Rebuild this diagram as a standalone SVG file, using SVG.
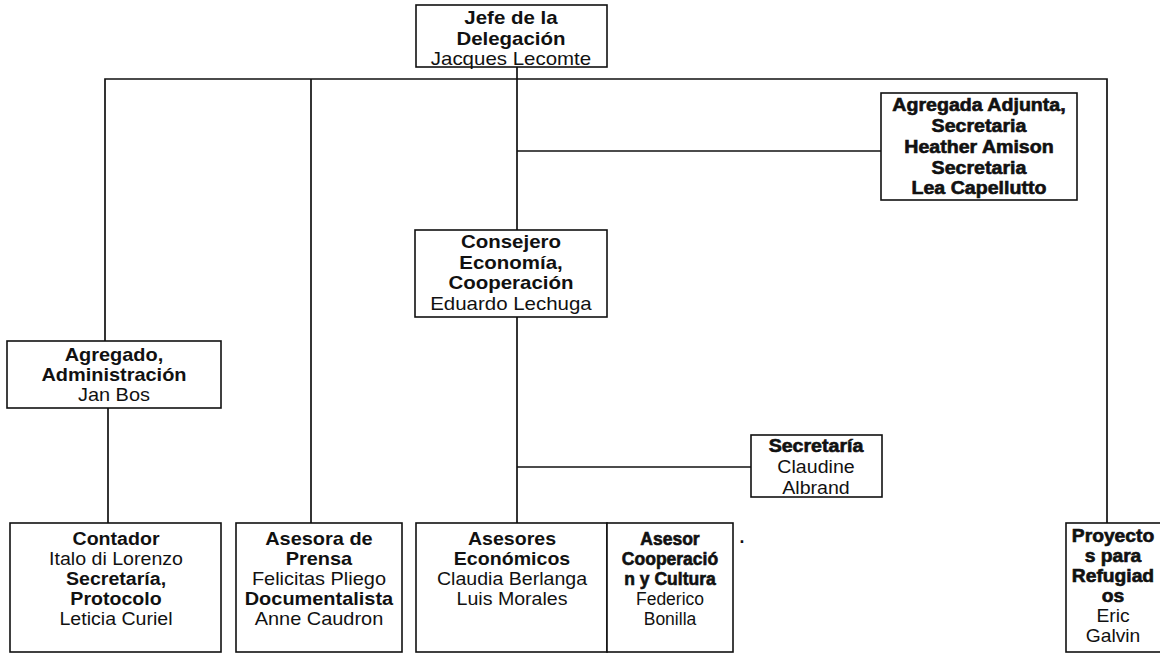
<svg xmlns="http://www.w3.org/2000/svg" width="1160" height="654" viewBox="0 0 1160 654">
  <style>
    .box { fill: #fff; stroke: #111; stroke-width: 1.6; }
    .wire { fill: none; stroke: #111; stroke-width: 1.7; }
    text { font-family: "Liberation Sans", Arial, sans-serif; font-size: 17.5px; fill: #111; text-anchor: middle; }
    .b { font-weight: bold; }
    .h { font-weight: bold; stroke: #111; stroke-width: 0.6; }
  </style>

  <rect width="1160" height="654" fill="#fff"/>

  <!-- connectors -->
  <g id="connectors">
    <polyline class="wire" points="105,341 105,79 1107,79 1107,523"/>
    <line class="wire" x1="311" y1="79" x2="311" y2="523"/>
    <line class="wire" x1="517" y1="67" x2="517" y2="230"/>
    <line class="wire" x1="517" y1="317" x2="517" y2="523"/>
    <line class="wire" x1="517" y1="151" x2="881" y2="151"/>
    <line class="wire" x1="517" y1="467" x2="751" y2="467"/>
    <line class="wire" x1="108" y1="408" x2="108" y2="523"/>
  </g>

  <!-- head of delegation -->
  <g id="jefe">
    <rect class="box" x="416" y="5" width="191" height="62"/>
    <g transform="matrix(1.17 0 0 1 -86.9 0)">
      <text class="b" x="511" y="24">Jefe de la</text>
      <text class="b" x="511" y="45">Delegación</text>
      <text x="511" y="65">Jacques Lecomte</text>
    </g>
  </g>

  <!-- deputy attaché -->
  <g id="agregada">
    <rect class="box" x="881" y="93" width="196" height="107"/>
    <g transform="matrix(1.12 0 0 1 -117.5 0)">
      <text class="h" x="979" y="111">Agregada Adjunta,</text>
      <text class="h" x="979" y="132">Secretaria</text>
      <text class="h" x="979" y="153">Heather Amison</text>
      <text class="h" x="979" y="174">Secretaria</text>
      <text class="h" x="979" y="194">Lea Capellutto</text>
    </g>
  </g>

  <!-- economy / cooperation counsellor -->
  <g id="consejero">
    <rect class="box" x="415" y="230" width="192" height="87"/>
    <g transform="matrix(1.17 0 0 1 -86.9 0)">
      <text class="b" x="511" y="248">Consejero</text>
      <text class="b" x="511" y="269">Economía,</text>
      <text class="b" x="511" y="289">Cooperación</text>
      <text x="511" y="310">Eduardo Lechuga</text>
    </g>
  </g>

  <!-- administration attaché -->
  <g id="agregado">
    <rect class="box" x="7" y="341" width="214" height="67"/>
    <g transform="matrix(1.14 0 0 1 -16 0)">
      <text class="b" x="114" y="361">Agregado,</text>
      <text class="b" x="114" y="381">Administración</text>
      <text x="114" y="401">Jan Bos</text>
    </g>
  </g>

  <!-- secretary -->
  <g id="secretaria">
    <rect class="box" x="751" y="435" width="131" height="62"/>
    <g transform="matrix(1.12 0 0 1 -97.9 0)">
      <text class="h" x="816" y="452">Secretaría</text>
      <text x="816" y="473">Claudine</text>
      <text x="816" y="494">Albrand</text>
    </g>
  </g>

  <!-- bottom row -->
  <g id="contador">
    <rect class="box" x="10" y="523" width="211" height="129"/>
    <g transform="matrix(1.12 0 0 1 -13.9 0)">
      <text class="b" x="116" y="545">Contador</text>
      <text x="116" y="565">Italo di Lorenzo</text>
      <text class="b" x="116" y="585">Secretaría,</text>
      <text class="b" x="116" y="605">Protocolo</text>
      <text x="116" y="625">Leticia Curiel</text>
    </g>
  </g>

  <g id="prensa">
    <rect class="box" x="236" y="523" width="166" height="129"/>
    <g transform="matrix(1.14 0 0 1 -44.7 0)">
      <text class="b" x="319" y="545">Asesora de</text>
      <text class="b" x="319" y="565">Prensa</text>
      <text x="319" y="585">Felicitas Pliego</text>
      <text class="b" x="319" y="605">Documentalista</text>
      <text x="319" y="625">Anne Caudron</text>
    </g>
  </g>

  <g id="economicos">
    <rect class="box" x="416" y="523" width="191" height="129"/>
    <g transform="matrix(1.12 0 0 1 -61.4 0)">
      <text class="b" x="512" y="545">Asesores</text>
      <text class="b" x="512" y="565">Económicos</text>
      <text x="512" y="585">Claudia Berlanga</text>
      <text x="512" y="605">Luis Morales</text>
    </g>
  </g>

  <g id="cultura">
    <rect class="box" x="607" y="523" width="126" height="129"/>
    <g>
      <text class="h" x="670" y="545">Asesor</text>
      <text class="h" x="670" y="565">Cooperació</text>
      <text class="h" x="670" y="585">n y Cultura</text>
      <text x="670" y="605">Federico</text>
      <text x="670" y="625">Bonilla</text>
    </g>
  </g>

  <text class="b" x="742" y="543">.</text>

  <g id="refugiados">
    <rect class="box" x="1066" y="523" width="100" height="129"/>
    <g transform="matrix(1.1 0 0 1 -111.3 0)">
      <text class="h" x="1113" y="542">Proyecto</text>
      <text class="h" x="1113" y="562">s para</text>
      <text class="h" x="1113" y="582">Refugiad</text>
      <text class="h" x="1113" y="602">os</text>
      <text x="1113" y="622">Eric</text>
      <text x="1113" y="642">Galvin</text>
    </g>
  </g>
</svg>
